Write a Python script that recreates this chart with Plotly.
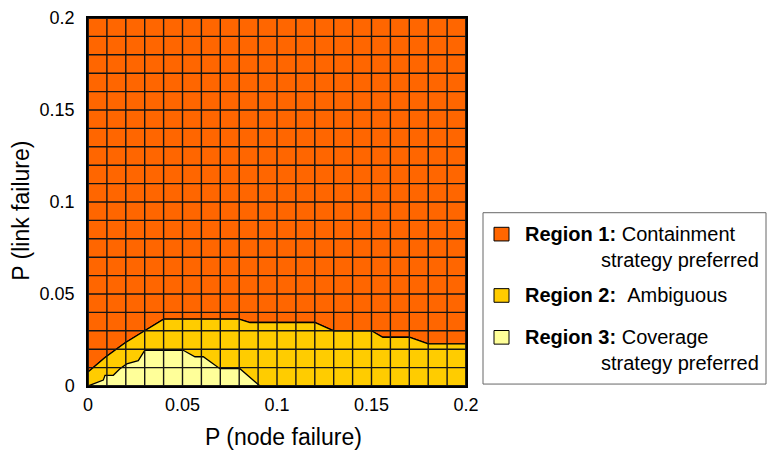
import numpy as np
import plotly.graph_objects as go

# Boundary between Region 1 (containment) and Region 2 (ambiguous)
upper_x = [0.0, 0.009, 0.0195, 0.030, 0.040, 0.080, 0.0857, 0.120, 0.130, 0.150, 0.156, 0.170, 0.180, 0.200]
upper_y = [0.0076, 0.0155, 0.0234, 0.030, 0.0363, 0.0363, 0.0345, 0.0345, 0.030, 0.030, 0.0265, 0.0265, 0.0229, 0.0229]

# Boundary between Region 2 (ambiguous) and Region 3 (coverage)
lower_x = [0.0, 0.0081, 0.009, 0.0134, 0.0169, 0.0205, 0.0266, 0.030, 0.0504, 0.0566, 0.061, 0.0698, 0.0804, 0.091]
lower_y = [0.0, 0.0032, 0.0058, 0.0058, 0.0094, 0.012, 0.0138, 0.0194, 0.0194, 0.0159, 0.0159, 0.0094, 0.0094, 0.0]

x_max, y_max = 0.2, 0.2
grid_step = 0.01
tick_vals = [0, 0.05, 0.1, 0.15, 0.2]
tick_text = ["0", "0.05", "0.1", "0.15", "0.2"]

region_colors = ["#FF6600", "#FFCC00", "#FFFF99"]
region_titles = ["Region 1:", "Region 2:", "Region 3:"]
region_desc = [["Containment", "strategy preferred"], ["\u00a0Ambiguous"], ["Coverage", "strategy preferred"]]

FONT = "Liberation Sans, Arial, Helvetica, sans-serif"

fig = go.Figure()

# Region 1: everything above the upper boundary
fig.add_trace(go.Scatter(
    x=[0.0] + upper_x + [x_max, 0.0],
    y=[y_max] + upper_y + [y_max, y_max],
    fill="toself", fillcolor=region_colors[0], mode="lines",
    line=dict(color="black", width=1.3), hoverinfo="skip", showlegend=False))

# Region 2: between the two boundaries (drawn under region 3)
fig.add_trace(go.Scatter(
    x=[0.0] + upper_x + [x_max, 0.0],
    y=[0.0] + upper_y + [0.0, 0.0],
    fill="toself", fillcolor=region_colors[1], mode="lines",
    line=dict(color="black", width=1.3), hoverinfo="skip", showlegend=False))

# Region 3: below the lower boundary
fig.add_trace(go.Scatter(
    x=lower_x + [lower_x[0]],
    y=lower_y + [lower_y[0]],
    fill="toself", fillcolor=region_colors[2], mode="lines",
    line=dict(color="black", width=1.3), hoverinfo="skip", showlegend=False))

# Evaluation grid on top of the regions
shapes = []
for v in np.arange(0, x_max + grid_step / 2, grid_step):
    shapes.append(dict(type="line", xref="x", yref="y", x0=v, x1=v, y0=0, y1=y_max,
                       line=dict(color="#151515", width=1.4), layer="above"))
for v in np.arange(0, y_max + grid_step / 2, grid_step):
    shapes.append(dict(type="line", xref="x", yref="y", x0=0, x1=x_max, y0=v, y1=v,
                       line=dict(color="#151515", width=1.4), layer="above"))

# Layout in pixels, converted to paper coordinates for the legend panel
L, T, W, H = 88, 8, 378, 378
FIG_W, FIG_H = 767, 451


def px(xp):
    return (xp - L) / W


def py(yp):
    return (T + H - yp) / H


shapes.append(dict(type="rect", xref="paper", yref="paper",
                   x0=px(483), x1=px(766), y0=py(384), y1=py(208),
                   line=dict(color="#666666", width=1), fillcolor="white", layer="above"))

annotations = []
rows = [(230, [257]), (293, []), (336, [362])]
for i, (yc, extra) in enumerate(rows):
    shapes.append(dict(type="rect", xref="paper", yref="paper",
                       x0=px(494), x1=px(509), y0=py(yc + 7), y1=py(yc - 7),
                       line=dict(color="black", width=1), fillcolor=region_colors[i], layer="above"))
    annotations.append(dict(xref="paper", yref="paper", x=px(523), y=py(yc),
                            xanchor="left", yanchor="middle", showarrow=False,
                            text=f"<b>{region_titles[i]}</b> {region_desc[i][0]}",
                            font=dict(family=FONT, size=20, color="black")))
    for j, ye in enumerate(extra):
        annotations.append(dict(xref="paper", yref="paper", x=px(599), y=py(ye),
                                xanchor="left", yanchor="middle", showarrow=False,
                                text=region_desc[i][j + 1],
                                font=dict(family=FONT, size=20, color="black")))

# Axis titles
annotations.append(dict(xref="paper", yref="paper", x=px(283), y=py(438),
                        xanchor="center", yanchor="middle", showarrow=False,
                        text="P (node failure)", font=dict(family=FONT, size=23, color="black")))
annotations.append(dict(xref="paper", yref="paper", x=px(21), y=py(206),
                        xanchor="center", yanchor="middle", showarrow=False, textangle=-90,
                        text="P (link failure)", font=dict(family=FONT, size=23, color="black")))

fig.update_layout(
    width=FIG_W, height=FIG_H,
    margin=dict(l=L, r=FIG_W - L - W, t=T, b=FIG_H - T - H, pad=0),
    paper_bgcolor="white", plot_bgcolor="white",
    shapes=shapes, annotations=annotations,
    font=dict(family=FONT, size=18, color="black"),
    xaxis=dict(range=[0, x_max], tickvals=tick_vals, ticktext=tick_text,
               showgrid=False, zeroline=False, showline=True, mirror=True,
               linecolor="black", linewidth=1.5, ticks="", ticklabelstandoff=2,
               tickfont=dict(size=18)),
    yaxis=dict(range=[0, y_max], tickvals=tick_vals, ticktext=tick_text,
               showgrid=False, zeroline=False, showline=True, mirror=True,
               linecolor="black", linewidth=1.5, ticks="", ticklabelstandoff=8,
               tickfont=dict(size=18)),
)

fig.write_html("out.html")
